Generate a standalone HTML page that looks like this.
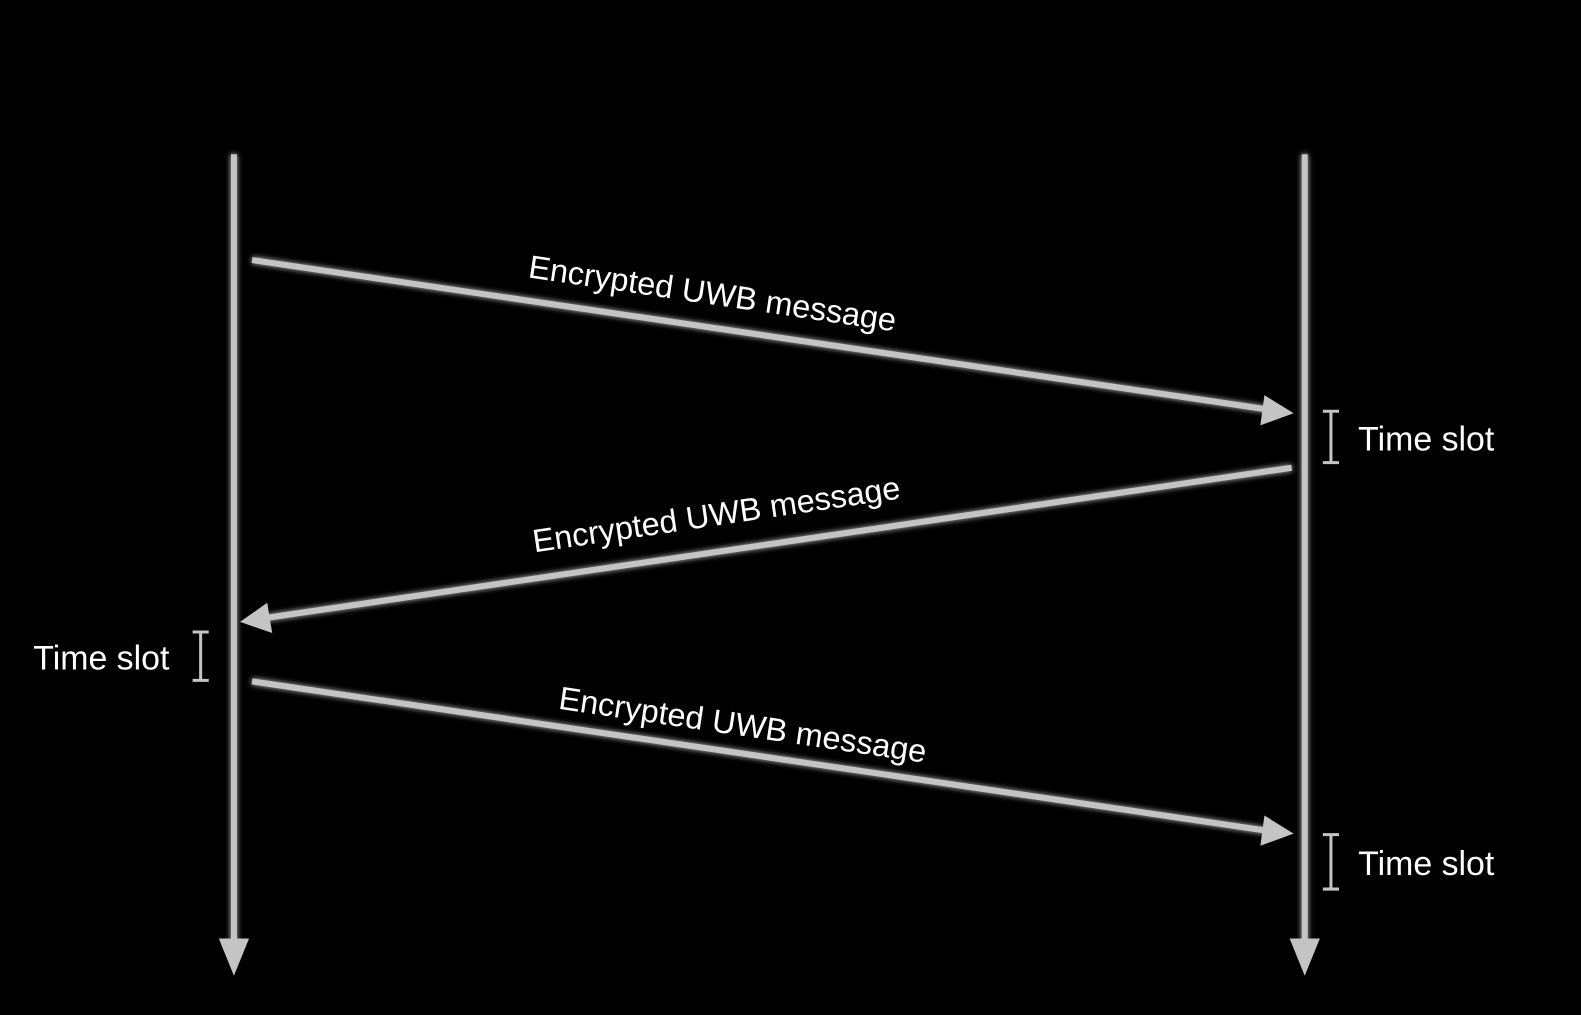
<!DOCTYPE html>
<html><head><meta charset="utf-8"><style>
html,body{margin:0;padding:0;background:#000;}
svg{display:block}
text{font-family:"Liberation Sans",sans-serif;fill:#fff}
</style></head><body>
<svg width="1581" height="1015" viewBox="0 0 1581 1015" xmlns="http://www.w3.org/2000/svg">
<defs>
<filter id="g" x="-20%" y="-20%" width="140%" height="140%">
<feGaussianBlur in="SourceGraphic" stdDeviation="3" result="b"/>
<feMerge><feMergeNode in="b"/><feMergeNode in="SourceGraphic"/></feMerge>
</filter>
</defs>
<rect width="1581" height="1015" fill="#000"/>
<g transform="scale(1.0083,1.008)">
<g stroke="#c4c4c4" stroke-width="6" fill="none" filter="url(#g)">
<line x1="232" y1="153" x2="232" y2="935"/>
<line x1="1294" y1="153" x2="1294" y2="935"/>
<line x1="250" y1="258" x2="1256" y2="406"/>
<line x1="1281" y1="464" x2="264" y2="613"/>
<line x1="250" y1="676" x2="1256" y2="824"/>
</g>
<g fill="#c4c4c4">
<polygon points="217,931 247,931 232,968"/>
<polygon points="1279,931 1309,931 1294,968"/>
<polygon points="1283,410 1254,392 1250,422"/>
<polygon points="238,617 265,598 270,628"/>
<polygon points="1283,827 1254,809 1250,839"/>
</g>
<g stroke="#c4c4c4" stroke-width="3" fill="none">
<path d="M1312,408H1328M1320,408V459M1312,459H1328"/>
<path d="M1312,828H1328M1320,828V882M1312,882H1328"/>
<path d="M191,627H207M199,627V675M191,675H207"/>
</g>
<text x="1347" y="447" font-size="34" textLength="135" lengthAdjust="spacingAndGlyphs">Time slot</text>
<text x="1347" y="868" font-size="34" textLength="135" lengthAdjust="spacingAndGlyphs">Time slot</text>
<text x="33" y="664" font-size="34" textLength="135" lengthAdjust="spacingAndGlyphs">Time slot</text>
<text transform="translate(523,275) rotate(8.4)" font-size="32" textLength="368" lengthAdjust="spacingAndGlyphs">Encrypted UWB message</text>
<text transform="translate(530,548) rotate(-8.4)" font-size="32" textLength="368" lengthAdjust="spacingAndGlyphs">Encrypted UWB message</text>
<text transform="translate(553,703) rotate(8.4)" font-size="32" textLength="368" lengthAdjust="spacingAndGlyphs">Encrypted UWB message</text>
</g>
</svg>
</body></html>
